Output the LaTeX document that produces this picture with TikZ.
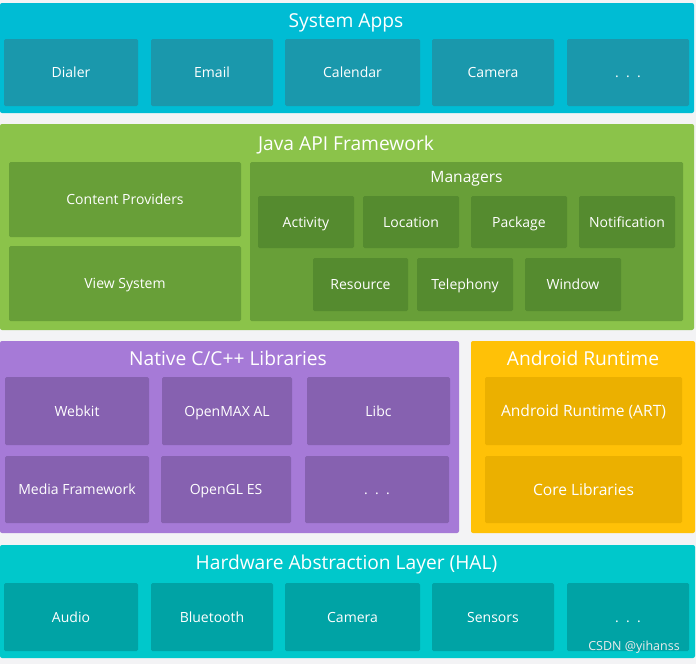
\documentclass[tikz,border=0pt]{standalone}
\usepackage{fontspec}
\setmainfont{Open Sans}
\usepackage{tikz}
\definecolor{FondoGris}{RGB}{243,243,245}
\definecolor{AppsCian}{RGB}{0,188,212}
\definecolor{AppsCaja}{RGB}{26,152,172}
\definecolor{JavaVerde}{RGB}{139,195,74}
\definecolor{JavaCaja}{RGB}{104,159,56}
\definecolor{JavaGestor}{RGB}{85,139,47}
\definecolor{NativoLila}{RGB}{166,122,215}
\definecolor{NativoCaja}{RGB}{134,97,176}
\definecolor{RuntimeAmbar}{RGB}{255,193,7}
\definecolor{RuntimeCaja}{RGB}{235,176,0}
\definecolor{HalCian}{RGB}{0,200,203}
\definecolor{HalCaja}{RGB}{0,163,165}
\tikzset{
  layer/.style={rounded corners=2pt,inner sep=0pt},
  box/.style={rounded corners=1.5pt,inner sep=0pt,text=white,text height=10pt,text depth=0pt,font=\fontsize{14}{16}\selectfont},
  bigbox/.style={box,text height=11.1pt,font=\fontsize{15.6}{18}\selectfont},
  title/.style={inner sep=0pt,text=white,text height=13.7pt,text depth=0pt,font=\fontsize{19.2}{22}\selectfont},
}

\begin{document}
\begin{tikzpicture}[x=1pt,y=-1pt]
  \useasboundingbox (0,0) rectangle (696,664);
  \fill[FondoGris] (0,0) rectangle (696,664);
  % System Apps
  \node[layer,fill=AppsCian,minimum width=694pt,minimum height=110pt] (apps) at (347,58) {};
  \node[title] (appsT) at (346,20.3) {System Apps};
  \node[box,fill=AppsCaja,minimum width=134pt,minimum height=67pt] (dialer) at (71,72.5) {Dialer};
  \node[box,fill=AppsCaja,minimum width=122pt,minimum height=67pt] (email) at (212,72.5) {Email};
  \node[box,fill=AppsCaja,minimum width=135pt,minimum height=67pt] (calendar) at (352.5,72.5) {Calendar};
  \node[box,fill=AppsCaja,minimum width=122pt,minimum height=67pt] (camera) at (493,72.5) {Camera};
  \node[box,fill=AppsCaja,minimum width=122pt,minimum height=67pt] (appsMore) at (628,72.5) {.\ \ .\ \ .};
  % Java API Framework
  \node[layer,fill=JavaVerde,minimum width=694pt,minimum height=206pt] (java) at (347,227) {};
  \node[title] (javaT) at (346,143.8) {Java API Framework};
  \node[box,fill=JavaCaja,minimum width=232pt,minimum height=75pt] (providers) at (125,199.5) {Content Providers};
  \node[box,fill=JavaCaja,minimum width=232pt,minimum height=75pt] (view) at (125,283.5) {View System};
  \node[box,fill=JavaCaja,minimum width=433pt,minimum height=159pt] (managers) at (466.5,241.5) {};
  \node[bigbox] (managersT) at (466.5,177) {Managers};
  \node[box,fill=JavaGestor,minimum width=96pt,minimum height=52pt] (activity) at (306,222) {Activity};
  \node[box,fill=JavaGestor,minimum width=96pt,minimum height=52pt] (location) at (411,222) {Location};
  \node[box,fill=JavaGestor,minimum width=96pt,minimum height=52pt] (package) at (519,222) {Package};
  \node[box,fill=JavaGestor,minimum width=96pt,minimum height=52pt] (notification) at (627,222) {Notification};
  \node[box,fill=JavaGestor,minimum width=95pt,minimum height=53pt] (resource) at (360.5,284.5) {Resource};
  \node[box,fill=JavaGestor,minimum width=96pt,minimum height=53pt] (telephony) at (465,284.5) {Telephony};
  \node[box,fill=JavaGestor,minimum width=96pt,minimum height=53pt] (window) at (573,284.5) {Window};
  % Native C/C++ Libraries
  \node[layer,fill=NativoLila,minimum width=459pt,minimum height=192pt] (native) at (229.5,437) {};
  \node[title] (nativeT) at (228,358.8) {Native C/C++ Libraries};
  \node[box,fill=NativoCaja,minimum width=144pt,minimum height=68pt] (webkit) at (77,411) {Webkit};
  \node[box,fill=NativoCaja,minimum width=130pt,minimum height=68pt] (openmax) at (227,411) {OpenMAX AL};
  \node[box,fill=NativoCaja,minimum width=143pt,minimum height=68pt] (libc) at (378.5,411) {Libc};
  \node[box,fill=NativoCaja,minimum width=144pt,minimum height=67pt] (media) at (77,489.5) {Media Framework};
  \node[box,fill=NativoCaja,minimum width=130pt,minimum height=67pt] (opengl) at (226,489.5) {OpenGL ES};
  \node[box,fill=NativoCaja,minimum width=144pt,minimum height=67pt] (nativeMore) at (377,489.5) {.\ \ .\ \ .};
  % Android Runtime
  \node[layer,fill=RuntimeAmbar,minimum width=224pt,minimum height=192pt] (runtime) at (583,437) {};
  \node[title] (runtimeT) at (583,358.8) {Android Runtime};
  \node[bigbox,fill=RuntimeCaja,minimum width=197pt,minimum height=68pt] (art) at (583.5,411) {Android Runtime (ART)};
  \node[bigbox,fill=RuntimeCaja,minimum width=197pt,minimum height=67pt] (core) at (583.5,489.5) {Core Libraries};
  % Hardware Abstraction Layer
  \node[layer,fill=HalCian,minimum width=695pt,minimum height=113pt] (hal) at (347.5,601.5) {};
  \node[title] (halT) at (346.5,563) {Hardware Abstraction Layer (HAL)};
  \node[box,fill=HalCaja,minimum width=134pt,minimum height=68pt] (audio) at (71,617) {Audio};
  \node[box,fill=HalCaja,minimum width=122pt,minimum height=68pt] (bluetooth) at (212,617) {Bluetooth};
  \node[box,fill=HalCaja,minimum width=135pt,minimum height=68pt] (halCamera) at (352.5,617) {Camera};
  \node[box,fill=HalCaja,minimum width=122pt,minimum height=68pt] (sensors) at (493,617) {Sensors};
  \node[box,fill=HalCaja,minimum width=122pt,minimum height=68pt] (halMore) at (628,617) {.\ \ .\ \ .};
  \node[text=white!85!gray,font=\fontsize{12.5}{14}\selectfont] (mark) at (634,647) {CSDN @yihanss};
\end{tikzpicture}
\end{document}
